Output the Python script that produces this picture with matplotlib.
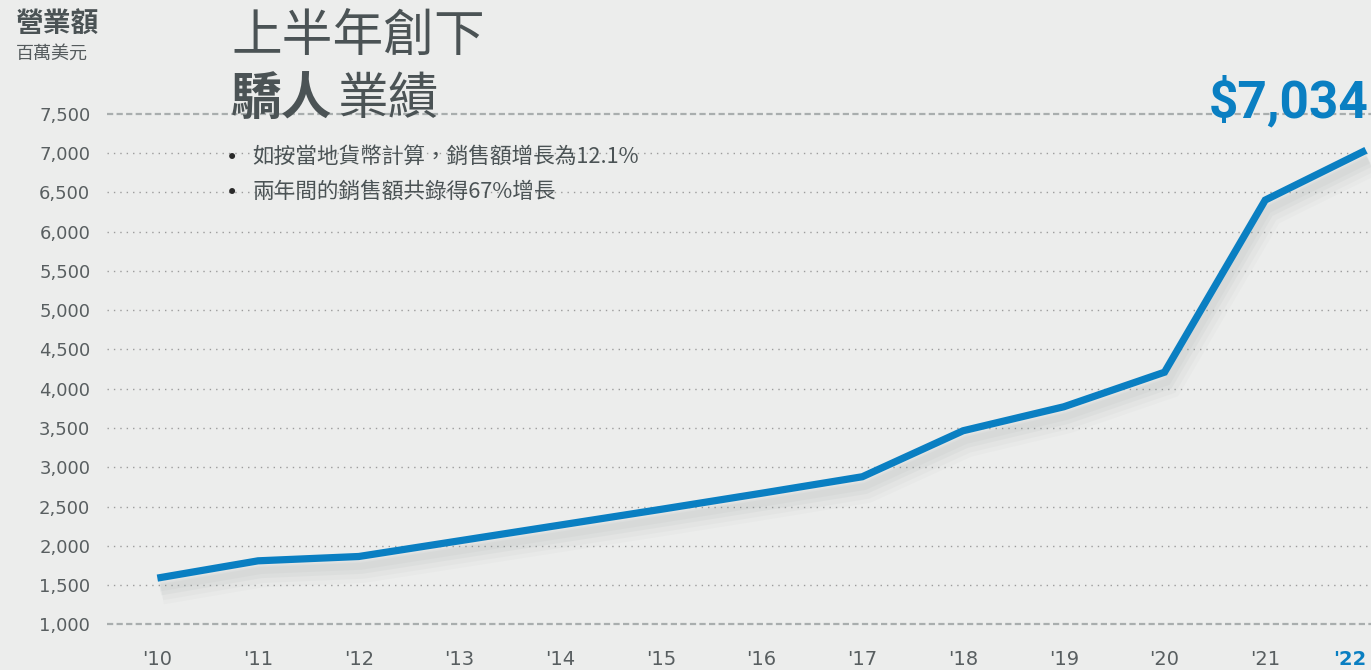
import matplotlib
matplotlib.use("Agg")
import matplotlib.pyplot as plt
import matplotlib.patheffects as pe

# ---- data ----
years = [2010, 2011, 2012, 2013, 2014, 2015, 2016, 2017, 2018, 2019, 2020, 2021, 2022]
year_labels = ["'10", "'11", "'12", "'13", "'14", "'15", "'16", "'17", "'18", "'19", "'20", "'21", "'22"]
revenue = [1590, 1810, 1865, 2065, 2265, 2465, 2670, 2880, 3465, 3770, 4210, 6400, 7034]
yticks = [1000, 1500, 2000, 2500, 3000, 3500, 4000, 4500, 5000, 5500, 6000, 6500, 7000, 7500]
ytick_labels = ["1,000", "1,500", "2,000", "2,500", "3,000", "3,500", "4,000", "4,500",
                "5,000", "5,500", "6,000", "6,500", "7,000", "7,500"]
dashed_levels = [1000, 7500]
ylabel_main = "營業額"
ylabel_unit = "百萬美元"
title_line1 = "上半年創下"
title_bold = "驕人"
title_rest = "業績"
bullets = ["如按當地貨幣計算，銷售額增長為12.1%", "兩年間的銷售額共錄得67%增長"]
highlight = "$7,034"

BG = "#ecedec"
BLUE = "#0a7fc2"
TXT = "#4b5355"
CJK = ["Noto Sans CJK TC", "DejaVu Sans"]

plt.rcParams['font.family'] = ['DejaVu Sans']

W, H = 1371, 670
fig = plt.figure(figsize=(W / 100, H / 100), dpi=100, facecolor=BG)

def fx(px):
    return px / W

def fy(py):
    return 1 - py / H

# axes placement (pixels): left 107, right 1371, top 97.9, bottom 640.2
ax = fig.add_axes([fx(107), fy(640.2), fx(1371 - 107), (640.2 - 97.9) / H])
ax.set_facecolor(BG)
ax.set_xlim(2009.5, 2022.05)
ax.set_ylim(800, 7700)
for s in ax.spines.values():
    s.set_visible(False)

for lv in yticks:
    if lv in dashed_levels:
        ax.axhline(lv, color="#a9aeae", lw=1.6, ls=(0, (2.8, 1.5)), zorder=1)
    else:
        ax.axhline(lv, color="#9c9c9c", lw=1.0, ls=(0, (1, 3.6)), zorder=1)

shadow = [
    pe.SimpleLineShadow(offset=(3, -9), shadow_color="#8a9595", alpha=0.04, linewidth=20),
    pe.SimpleLineShadow(offset=(3, -9), shadow_color="#8a9595", alpha=0.05, linewidth=14),
    pe.SimpleLineShadow(offset=(2, -8), shadow_color="#8a9595", alpha=0.07, linewidth=9),
    pe.SimpleLineShadow(offset=(2, -7), shadow_color="#8a9595", alpha=0.06, linewidth=5),
    pe.Normal(),
]
ax.plot(years, revenue, color=BLUE, lw=5.2, solid_joinstyle="miter",
        solid_capstyle="butt", zorder=3, path_effects=shadow, clip_on=False)

ax.set_yticks(yticks)
ax.set_yticklabels(ytick_labels, fontsize=13, color="#585e60")
ax.set_xticks(years)
ax.set_xticklabels(year_labels, fontsize=14, color="#585e60")
ax.tick_params(axis="y", length=0, pad=12)
ax.tick_params(axis="x", length=0, pad=7)
lab = ax.get_xticklabels()[-1]
lab.set_color(BLUE)
lab.set_fontweight("bold")
lab.set_horizontalalignment("right")

# header texts
fig.text(fx(16), fy(25), ylabel_main, family=CJK, fontsize=20, fontweight="bold",
         color=TXT, va="center", ha="left")
fig.text(fx(16), fy(54), ylabel_unit, family=CJK, fontsize=13, color="#555b5d",
         va="center", ha="left")

fig.text(fx(231), fy(38), title_line1, family=CJK, fontsize=36.5, color=TXT,
         va="center", ha="left", zorder=5)
fig.text(fx(231), fy(100), title_bold, family=CJK, fontsize=36.5, fontweight="bold",
         color=TXT, va="center", ha="left", zorder=5)
fig.text(fx(337), fy(100), title_rest, family=CJK, fontsize=36.5, color=TXT,
         va="center", ha="left", zorder=5)

for i, b in enumerate(bullets):
    yy = 157 + i * 35
    fig.text(fx(226), fy(yy + 1), "•", fontsize=15, color="#2a2a2a", va="center", ha="left")
    fig.text(fx(252), fy(yy), b, family=CJK, fontsize=15.6, color=TXT, va="center", ha="left")

fig.text(fx(1369), fy(102), highlight, family=["Roboto", "DejaVu Sans"], fontsize=37,
         fontweight="bold", color=BLUE, va="center", ha="right", zorder=5)

fig.savefig("out.png", dpi=100, facecolor=BG)
